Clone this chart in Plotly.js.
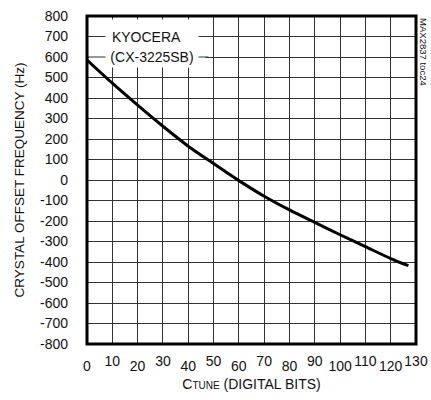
<!DOCTYPE html>
<html>
<head>
<meta charset="utf-8">
<script src="https://cdn.plot.ly/plotly-3.0.1.min.js"></script>
<style>html,body{margin:0;padding:0;background:#fff;}#chart{width:431px;height:400px;}</style>
</head>
<body>
<div id="chart"></div>
<script>
// Data
const cTune = [0, 10, 20, 30, 40, 50, 60, 70, 80, 90, 100, 110, 120, 127];
const offsetHz = [585, 472, 365, 262, 165, 80, -3, -79, -146, -207, -267, -325, -383, -418];

// Tick labels
const xGridVals = [0, 10, 20, 30, 40, 50, 60, 70, 80, 90, 100, 110, 120, 130];
const xLowVals = [0, 20, 40, 60, 80, 100, 120];
const xLowText = ['0', '20', '40', '60', '80', '100', '120'];
const xHighVals = [10, 30, 50, 70, 90, 110, 130];
const xHighText = ['10', '30', '50', '70', '90', '110', '130'];
const yTickVals = [800, 700, 600, 500, 400, 300, 200, 100, 0, -100, -200, -300, -400, -500, -600, -700, -800];
const yTickText = ['800', '700', '600', '500', '400', '300', '200', '100', '0', '-100', '-200', '-300', '-400', '-500', '-600', '-700', '-800'];

const legendLines = ['\u00A0KYOCERA', '(CX-3225SB)'];
const legendY = [700, 600];

const FONT = 'Liberation Sans, Arial, sans-serif';
const GRID = '#333';

const trace = {
  x: cTune, y: offsetHz, type: 'scatter', mode: 'lines',
  line: {color: '#000', width: 3, shape: 'spline', smoothing: 0.8},
  hoverinfo: 'skip', showlegend: false
};

const layout = {
  width: 431, height: 400,
  margin: {l: 87, r: 15, t: 16, b: 56},
  paper_bgcolor: '#fff', plot_bgcolor: '#fff',
  font: {family: FONT, size: 14, color: '#111'},
  showlegend: false,
  xaxis: {
    range: [0, 130], tickvals: xGridVals, showticklabels: false,
    showgrid: true, gridcolor: GRID, gridwidth: 1, zeroline: false, ticks: '',
    fixedrange: true
  },
  xaxis2: {
    overlaying: 'x', anchor: 'y', side: 'bottom', range: [0, 130],
    tickvals: xLowVals, ticktext: xLowText, showgrid: false, zeroline: false,
    ticks: '', ticklabelstandoff: 12, tickfont: {family: FONT, size: 14},
    title: {text: 'C<span style="font-size:10px">TUNE</span> (DIGITAL BITS)', font: {family: FONT, size: 14}, standoff: 6}
  },
  xaxis3: {
    overlaying: 'x', anchor: 'y', side: 'bottom', range: [0, 130],
    tickvals: xHighVals, ticktext: xHighText, showgrid: false, zeroline: false,
    ticks: '', ticklabelstandoff: 7, tickfont: {family: FONT, size: 14}
  },
  yaxis: {
    range: [-800, 800], tickvals: yTickVals, ticktext: yTickText,
    showgrid: true, gridcolor: GRID, gridwidth: 1, zeroline: false, ticks: '',
    ticklabelstandoff: 18, tickfont: {family: FONT, size: 14}, fixedrange: true,
    title: {text: 'CRYSTAL OFFSET FREQUENCY (Hz)', font: {family: FONT, size: 13.5}, standoff: 12}
  },
  shapes: [
    {type: 'rect', xref: 'x', yref: 'y', x0: 0.8, x1: 46.8, y0: 565, y1: 783,
     fillcolor: '#fff', line: {width: 0}, layer: 'between'},
    ...legendY.map(v => ({type: 'line', xref: 'x', yref: 'y', x0: 0, x1: 48, y0: v, y1: v,
      line: {color: GRID, width: 1}, layer: 'between'})),
    {type: 'rect', xref: 'paper', yref: 'paper', x0: 0, x1: 1, y0: 0, y1: 1,
     line: {color: '#000', width: 3}, layer: 'above'}
  ],
  annotations: [
    ...legendLines.map((t, i) => ({
      text: t, x: 25.8, y: legendY[i], xref: 'x', yref: 'y', showarrow: false,
      bgcolor: '#fff', borderpad: 2, width: 88, align: i === 0 ? 'left' : 'center',
      font: {family: FONT, size: 14, color: '#111'}
    })),
    {text: 'MAX2837 toc24', xref: 'paper', yref: 'paper', x: 1.024, y: 1.0,
     xanchor: 'center', yanchor: 'top', textangle: 90, showarrow: false,
     font: {family: FONT, size: 9.5, color: '#111'}}
  ]
};

const ghost2 = {x: [0], y: [0], xaxis: 'x2', yaxis: 'y', mode: 'markers', marker: {opacity: 0}, hoverinfo: 'skip', showlegend: false};
const ghost3 = {x: [0], y: [0], xaxis: 'x3', yaxis: 'y', mode: 'markers', marker: {opacity: 0}, hoverinfo: 'skip', showlegend: false};

Plotly.newPlot('chart', [trace, ghost2, ghost3], layout, {staticPlot: true});
</script>
</body>
</html>
